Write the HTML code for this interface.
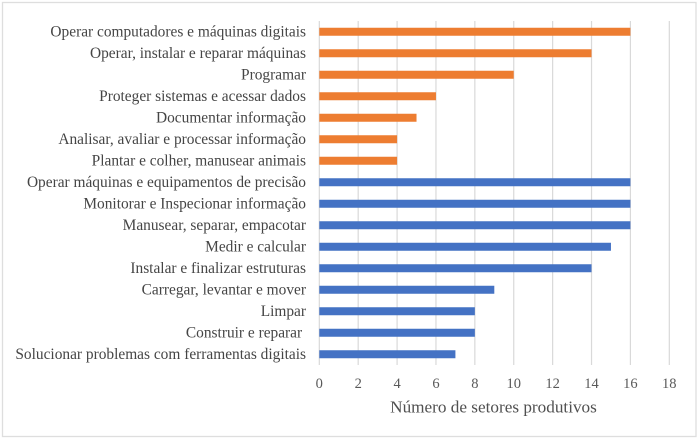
<!DOCTYPE html>
<html lang="pt">
<head>
<meta charset="utf-8">
<title>Número de setores produtivos</title>
<style>
html,body{margin:0;padding:0;background:#fff;width:700px;height:439px;overflow:hidden}
svg{display:block;font-family:"Liberation Serif",serif}
</style>
</head>
<body>
<svg id="chart" width="700" height="439" viewBox="0 0 700 439" xmlns="http://www.w3.org/2000/svg">
<rect x="2.5" y="2.5" width="693.5" height="434" fill="#fff" stroke="#dedede" stroke-width="1.3"/>
</svg>
<script>
const categories = [
  "Operar computadores e máquinas digitais",
  "Operar, instalar e reparar máquinas",
  "Programar",
  "Proteger sistemas e acessar dados",
  "Documentar informação",
  "Analisar, avaliar e processar informação",
  "Plantar e colher, manusear animais",
  "Operar máquinas e equipamentos de precisão",
  "Monitorar e Inspecionar informação",
  "Manusear, separar, empacotar",
  "Medir e calcular",
  "Instalar e finalizar estruturas",
  "Carregar, levantar e mover",
  "Limpar",
  "Construir e reparar ",
  "Solucionar problemas com ferramentas digitais"
];
const values = [16, 14, 10, 6, 5, 4, 4, 16, 16, 16, 15, 14, 9, 8, 8, 7];
const seriesGroup = ["orange", "orange", "orange", "orange", "orange", "orange", "orange", "blue", "blue", "blue", "blue", "blue", "blue", "blue", "blue", "blue"];
const xTicks = [0, 2, 4, 6, 8, 10, 12, 14, 16, 18];
const xAxisTitle = "Número de setores produtivos";

const svg = document.getElementById('chart');
const NS = 'http://www.w3.org/2000/svg';
const plot = {left: 319.3, right: 669.3, top: 21, bottom: 365};
const colors = {orange: '#ed7d31', blue: '#4472c4'};
const xScale = v => plot.left + (v - xTicks[0]) / (xTicks[xTicks.length - 1] - xTicks[0]) * (plot.right - plot.left);
const band = (plot.bottom - plot.top) / categories.length;
const yScale = i => plot.top + band * (i + 0.5);

function make(tag, attrs, text) {
  const el = document.createElementNS(NS, tag);
  for (const k in attrs) el.setAttribute(k, attrs[k]);
  if (text !== undefined) el.textContent = text;
  svg.appendChild(el);
  return el;
}

xTicks.forEach(t => {
  const line = make('line', {x1: xScale(t), x2: xScale(t), y1: plot.top, y2: plot.bottom, stroke: '#d9d9d9', 'stroke-width': 1.2});
  
  
  const label = make('text', {x: xScale(t), y: 388, 'text-anchor': 'middle', 'font-size': 14.5, fill: '#595959'}, String(t));
  
  
});

categories.forEach((c, i) => {
  const label = make('text', {x: 306, y: yScale(i) + 4.6, 'text-anchor': 'end', 'font-size': 15.4, fill: '#454545'}, c);
  label.style.whiteSpace = 'pre';
  
  
  const bar = make('rect', {x: xScale(0), y: yScale(i) - 4, width: xScale(values[i]) - xScale(0), height: 8, fill: colors[seriesGroup[i]]});
  
  
});

const title = make('text', {x: 493.5, y: 412.5, 'text-anchor': 'middle', 'font-size': 17.2, fill: '#505050'}, xAxisTitle);


</script>
</body>
</html>
